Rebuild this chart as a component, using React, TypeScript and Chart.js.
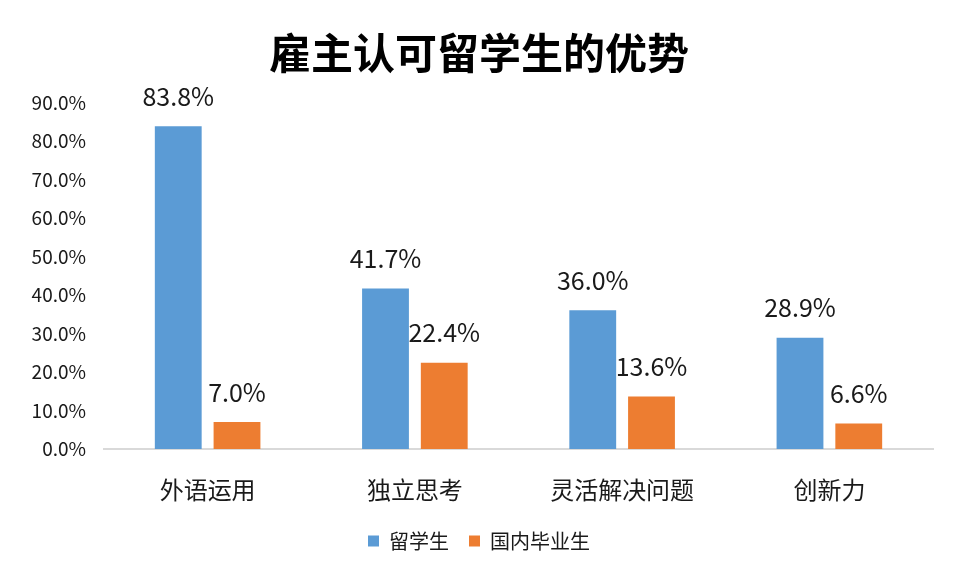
import React, { useEffect, useRef } from "react";
import { Chart, registerables } from "chart.js";

Chart.register(...registerables);

const categories = ["外语运用", "独立思考", "灵活解决问题", "创新力"];
const overseasValues = [83.8, 41.7, 36.0, 28.9];
const domesticValues = [7.0, 22.4, 13.6, 6.6];
const seriesNames = ["留学生", "国内毕业生"];
const titleText = "雇主认可留学生的优势";

const FONT = '"Noto Sans CJK SC", "Microsoft YaHei", sans-serif';

const labelPlugin = {
  id: "valueLabels",
  afterDatasetsDraw(chart: any) {
    const ctx = chart.ctx;
    ctx.save();
    ctx.font = `25px ${FONT}`;
    ctx.fillStyle = "#1a1a1a";
    ctx.textAlign = "center";
    ctx.textBaseline = "middle";
    chart.data.datasets.forEach((ds: any, i: number) => {
      const meta = chart.getDatasetMeta(i);
      meta.data.forEach((el: any, j: number) => {
        const v = ds.data[j] as number;
        ctx.fillText(v.toFixed(1) + "%", el.x, el.y - 30);
      });
    });
    ctx.restore();
  },
};

export default function App() {
  const ref = useRef<HTMLCanvasElement>(null);
  useEffect(() => {
    document.body.style.margin = "0";
    const chart = new Chart(ref.current!, {
      type: "bar",
      data: {
        labels: categories,
        datasets: [
          {
            label: seriesNames[0],
            data: overseasValues,
            backgroundColor: "#5B9BD5",
            categoryPercentage: 0.567,
            barPercentage: 0.797,
          },
          {
            label: seriesNames[1],
            data: domesticValues,
            backgroundColor: "#ED7D31",
            categoryPercentage: 0.567,
            barPercentage: 0.797,
          },
        ],
      },
      options: {
        animation: false,
        responsive: false,
        maintainAspectRatio: false,
        layout: { padding: { top: 4, right: 25, bottom: 14, left: 25 } },
        plugins: {
          title: {
            display: true,
            text: titleText,
            color: "#000000",
            font: { family: FONT, size: 42, weight: "bold", lineHeight: 1.2 },
            padding: { top: 24, bottom: 24 },
          },
          legend: {
            position: "bottom",
            labels: {
              boxWidth: 11,
              boxHeight: 11,
              color: "#1a1a1a",
              font: { family: FONT, size: 20 },
              padding: 20,
            },
          },
          tooltip: { enabled: false },
        },
        scales: {
          x: {
            grid: { display: false, drawTicks: false },
            border: { display: true, color: "#D9D9D9", width: 2 },
            ticks: {
              color: "#1a1a1a",
              font: { family: FONT, size: 24 },
              padding: 26,
            },
            afterFit(scale: any) {
              scale.height = 62;
            },
          },
          y: {
            min: 0,
            max: 90,
            grid: { display: false, drawTicks: false },
            border: { display: false },
            ticks: {
              stepSize: 10,
              color: "#1a1a1a",
              font: { family: FONT, size: 19 },
              padding: 18,
              callback: (v: any) => Number(v).toFixed(1) + "%",
            },
            afterFit(scale: any) {
              scale.width = 79;
            },
          },
        },
      },
      plugins: [labelPlugin],
    });
    return () => chart.destroy();
  }, []);
  return <canvas ref={ref} width={958} height={575} style={{ display: "block" }} />;
}
